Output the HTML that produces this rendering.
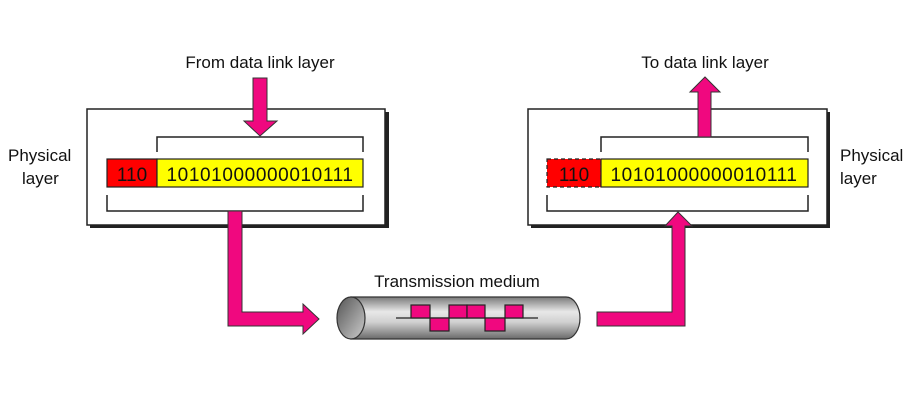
<!DOCTYPE html>
<html><head><meta charset="utf-8"><style>
html,body{margin:0;padding:0;background:#fff;}
svg{display:block;}
text{font-family:"Liberation Sans",sans-serif;fill:#111;}
</style></head><body>
<svg width="922" height="409" viewBox="0 0 922 409" xmlns="http://www.w3.org/2000/svg">
<defs>
<linearGradient id="cyl" x1="0" y1="0" x2="0" y2="1">
<stop offset="0" stop-color="#7a7a7a"/><stop offset="0.35" stop-color="#e8e8e8"/><stop offset="0.6" stop-color="#d0d0d0"/><stop offset="1" stop-color="#6a6a6a"/>
</linearGradient>
<linearGradient id="end" x1="0" y1="0" x2="1" y2="1">
<stop offset="0" stop-color="#555"/><stop offset="1" stop-color="#ccc"/>
</linearGradient>
</defs>
<!-- left box -->
<rect x="90" y="112" width="299" height="116" fill="#222"/>
<rect x="87" y="109" width="298" height="116" fill="#fff" stroke="#222" stroke-width="1.5"/>
<polyline points="157,152 157,137 363,137 363,152" fill="none" stroke="#222" stroke-width="1.5"/>
<polyline points="107,195 107,211 363,211 363,195" fill="none" stroke="#222" stroke-width="1.5"/>
<rect x="107" y="159" width="50" height="28" fill="#f00" stroke="#222" stroke-width="1.2"/>
<rect x="157" y="159" width="206" height="28" fill="#ff0" stroke="#222" stroke-width="1.2"/>
<text x="132" y="181" font-size="19" text-anchor="middle">110</text>
<text x="260" y="181" font-size="19" letter-spacing="0.6" text-anchor="middle">10101000000010111</text>
<!-- right box -->
<rect x="531" y="112" width="299" height="116" fill="#222"/>
<rect x="528" y="109" width="299" height="116" fill="#fff" stroke="#222" stroke-width="1.5"/>
<polyline points="601,152 601,137 808,137 808,152" fill="none" stroke="#222" stroke-width="1.5"/>
<polyline points="547,195 547,211 808,211 808,195" fill="none" stroke="#222" stroke-width="1.5"/>
<rect x="547" y="159" width="54" height="28" fill="#f00" stroke="#222" stroke-width="1.2" stroke-dasharray="4,3"/>
<rect x="601" y="159" width="207" height="28" fill="#ff0" stroke="#222" stroke-width="1.2"/>
<text x="574" y="181" font-size="19" text-anchor="middle">110</text>
<text x="704" y="181" font-size="19" letter-spacing="0.6" text-anchor="middle">10101000000010111</text>
<!-- labels -->
<text x="260" y="68" font-size="17" text-anchor="middle">From data link layer</text>
<text x="705" y="68" font-size="17" text-anchor="middle">To data link layer</text>
<text x="8" y="161" font-size="17">Physical</text>
<text x="22" y="184" font-size="17">layer</text>
<text x="840" y="161" font-size="17">Physical</text>
<text x="840" y="184" font-size="17">layer</text>
<text x="457" y="287" font-size="17" text-anchor="middle">Transmission medium</text>
<!-- arrows -->
<g fill="#f0087f" stroke="#333" stroke-width="1">
<polygon points="253,78 267,78 267,121 277,121 260,136 244,121 253,121"/>
<polygon points="698,137 711,137 711,92 720,92 705,77 690,92 698,92"/>
<polygon points="228,211 242,211 242,312 303,312 303,304 319,319 303,334 303,326 228,326"/>
<polygon points="597,312 672,312 672,226 665,226 678,212 692,226 685,226 685,326 597,326"/>
</g>
<!-- cylinder -->
<path d="M351,297 L566,297 A14,21 0 0 1 566,339 L351,339 Z" fill="url(#cyl)" stroke="#333" stroke-width="1.2"/>
<ellipse cx="351" cy="318" rx="14" ry="21" fill="url(#end)" stroke="#333" stroke-width="1.2"/>
<line x1="396" y1="318" x2="538" y2="318" stroke="#222" stroke-width="1.2"/>
<g fill="#f0087f" stroke="#222" stroke-width="1.2">
<rect x="411" y="305" width="19" height="13"/>
<rect x="430" y="318" width="19" height="13"/>
<rect x="449" y="305" width="18" height="13"/>
<rect x="467" y="305" width="18" height="13"/>
<rect x="485" y="318" width="20" height="13"/>
<rect x="505" y="305" width="18" height="13"/>
</g>
</svg>
</body></html>
